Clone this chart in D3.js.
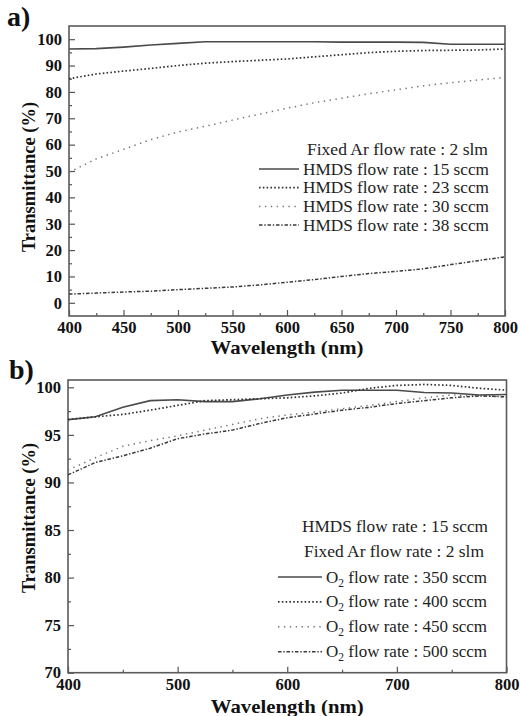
<!DOCTYPE html>
<html>
<head>
<meta charset="utf-8">
<script src="https://cdn.jsdelivr.net/npm/d3@7"></script>
<style>
  html, body { margin: 0; padding: 0; background: #fff; }
  svg { display: block; }
  .tick text { font-family: "Liberation Serif", "DejaVu Serif", serif; font-weight: bold; font-size: 16.5px; fill: #111; }
  .domain { display: none; }
  .tick line { stroke: #555; stroke-width: 1.2; }
</style>
</head>
<body>
<svg id="fig" width="520" height="716"></svg>
<script>
// Wavelength grid (nm) shared by every spectrum
const wavelength = [400, 425, 450, 475, 500, 525, 550, 575, 600, 625, 650, 675, 700, 725, 750, 775, 800];

// (a) transmittance (%) for each HMDS flow rate, Ar fixed at 2 slm
const hmds15 = [96.3, 96.4, 97.0, 97.8, 98.4, 99.0, 99.0, 99.0, 99.0, 99.0, 98.9, 98.9, 98.9, 98.8, 98.1, 98.1, 98.1];
const hmds23 = [85.0, 86.8, 87.9, 88.9, 90.0, 90.9, 91.5, 92.0, 92.5, 93.3, 94.1, 94.9, 95.4, 95.7, 95.8, 95.9, 96.3];
const hmds30 = [49.5, 54.6, 58.2, 61.9, 64.8, 67.0, 69.3, 71.6, 73.8, 75.9, 77.6, 79.3, 80.8, 82.3, 83.5, 84.5, 85.5];
const hmds38 = [3.3, 3.7, 4.1, 4.4, 5.0, 5.5, 6.0, 6.8, 7.8, 8.8, 10.0, 11.1, 11.9, 12.9, 14.5, 16.0, 17.4];

// (b) transmittance (%) for each O2 flow rate, HMDS 15 sccm, Ar 2 slm
const o2_350 = [96.6, 96.9, 97.9, 98.6, 98.7, 98.5, 98.5, 98.8, 99.2, 99.5, 99.7, 99.7, 99.7, 99.45, 99.4, 99.2, 99.25];
const o2_400 = [96.6, 96.9, 97.15, 97.6, 98.1, 98.6, 98.7, 98.8, 98.9, 99.1, 99.4, 99.9, 100.2, 100.3, 100.2, 99.9, 99.7];
const o2_450 = [91.3, 92.6, 93.8, 94.4, 94.9, 95.5, 96.1, 96.7, 97.1, 97.4, 97.75, 98.1, 98.5, 98.9, 99.2, 99.1, 99.0];
const o2_500 = [90.8, 92.1, 92.8, 93.6, 94.6, 95.1, 95.5, 96.2, 96.8, 97.2, 97.6, 97.9, 98.3, 98.6, 98.9, 99.1, 99.0];

// Axis tick values
const ticksAX = [400, 450, 500, 550, 600, 650, 700, 750, 800];
const ticksAY = [0, 10, 20, 30, 40, 50, 60, 70, 80, 90, 100];
const ticksBX = [400, 500, 600, 700, 800];
const ticksBY = [70, 75, 80, 85, 90, 95, 100];

const legendA = {
  header: ["Fixed Ar flow rate : 2 slm"],
  items: ["HMDS flow rate : 15 sccm", "HMDS flow rate : 23 sccm", "HMDS flow rate : 30 sccm", "HMDS flow rate : 38 sccm"]
};
const legendB = {
  header: ["HMDS flow rate : 15 sccm", "Fixed Ar flow rate : 2 slm"],
  items: ["350", "400", "450", "500"]
};

// Line looks: solid, dense dots, sparse dots, dash-dot
const styles = [
  { dash: null, color: "#4a4a4a", width: 1.6 },
  { dash: "1.6,2.2", color: "#333", width: 1.7 },
  { dash: "1.4,4.5", color: "#777", width: 1.5 },
  { dash: "3.5,1.8,1.4,1.8", color: "#3a3a3a", width: 1.5 }
];

const svg = d3.select("#fig");
const serif = '"Liberation Serif", "DejaVu Serif", serif';

function panel(cfg) {
  const g = svg.append("g");
  const x = d3.scaleLinear().domain([400, 800]).range([cfg.left, cfg.right]);
  const y = d3.scaleLinear().domain(cfg.yDomain).range([cfg.bottom, cfg.top]);

  // minor ticks
  g.append("g").attr("transform", `translate(0,${cfg.bottom})`)
    .call(d3.axisBottom(x).tickValues(cfg.xMinor).tickSize(-3).tickFormat(""));
  g.append("g").attr("transform", `translate(${cfg.left},0)`)
    .call(d3.axisLeft(y).tickValues(cfg.yMinor).tickSize(-3).tickFormat(""));

  // major ticks with labels
  const xa = g.append("g").attr("transform", `translate(0,${cfg.bottom})`)
    .call(d3.axisBottom(x).tickValues(cfg.xTicks).tickSize(-6).tickPadding(cfg.xPad).tickFormat(d3.format("d")));
  xa.selectAll(".tick text").attr("dy", "0.71em");
  g.append("g").attr("transform", `translate(${cfg.left},0)`)
    .call(d3.axisLeft(y).tickValues(cfg.yTicks).tickSize(-6).tickPadding(7).tickFormat(d3.format("d")));

  // plot frame
  g.append("rect")
    .attr("x", cfg.left).attr("y", cfg.top)
    .attr("width", cfg.right - cfg.left).attr("height", cfg.bottom - cfg.top)
    .attr("fill", "none").attr("stroke", "#5a5a5a").attr("stroke-width", 1.6);

  // spectra
  const line = d3.line().x((d, i) => x(wavelength[i])).y(d => y(d));
  cfg.series.forEach((s, k) => {
    g.append("path").datum(s)
      .attr("d", line)
      .attr("fill", "none")
      .attr("stroke", styles[k].color)
      .attr("stroke-width", styles[k].width)
      .attr("stroke-dasharray", styles[k].dash);
  });

  // axis titles
  g.append("text")
    .attr("x", (cfg.left + cfg.right) / 2).attr("y", cfg.xTitleY)
    .attr("text-anchor", "middle")
    .attr("font-family", serif).attr("font-weight", "bold").attr("font-size", 19.5).attr("fill", "#111")
    .attr("textLength", 153).attr("lengthAdjust", "spacingAndGlyphs")
    .text("Wavelength (nm)");
  g.append("text")
    .attr("transform", `translate(${cfg.yTitleX},${cfg.yTitleC}) rotate(-90)`)
    .attr("text-anchor", "middle")
    .attr("font-family", serif).attr("font-weight", "bold").attr("font-size", 18.5).attr("fill", "#111")
    .text("Transmittance (%)");

  // panel letter
  g.append("text")
    .attr("x", cfg.letterX).attr("y", cfg.letterY)
    .attr("font-family", serif).attr("font-weight", "bold").attr("font-size", 28).attr("fill", "#111")
    .text(cfg.letter);

  return g;
}

const ga = panel({
  left: 69, right: 505, top: 26, bottom: 316,
  yDomain: [-5, 105],
  xTicks: ticksAX, yTicks: ticksAY,
  xMinor: d3.range(425, 800, 50), yMinor: d3.range(5, 105, 10),
  xPad: 5, xTitleY: 354, yTitleX: 35, yTitleC: 177,
  letter: "a)", letterX: 7, letterY: 26,
  series: [hmds15, hmds23, hmds30, hmds38]
});

const gb = panel({
  left: 68, right: 506.5, top: 380, bottom: 672.7,
  yDomain: [70, 100.77],
  xTicks: ticksBX, yTicks: ticksBY,
  xMinor: d3.range(450, 800, 100), yMinor: d3.range(72.5, 100, 5),
  xPad: 6, xTitleY: 713, yTitleX: 35, yTitleC: 518,
  letter: "b)", letterX: 9, letterY: 379,
  series: [o2_350, o2_400, o2_450, o2_500]
});

// legends
function legend(g, headers, items, itemY0, step, lineX0, lineX1, textX, itemLen, fmt) {
  headers.forEach((h, i) => {
    g.append("text").attr("x", h.x).attr("y", h.y)
      .attr("font-family", serif).attr("font-size", 17).attr("fill", "#222")
      .attr("textLength", h.len).attr("lengthAdjust", "spacingAndGlyphs")
      .text(items.header[i]);
  });
  items.items.forEach((label, k) => {
    const yb = itemY0 + k * step;
    g.append("line")
      .attr("x1", lineX0).attr("x2", lineX1)
      .attr("y1", yb - 5.5).attr("y2", yb - 5.5)
      .attr("stroke", styles[k].color).attr("stroke-width", styles[k].width)
      .attr("stroke-dasharray", styles[k].dash);
    const t = g.append("text").attr("x", textX).attr("y", yb)
      .attr("font-family", serif).attr("font-size", 17).attr("fill", "#222");
    fmt(t, label, itemLen);
  });
}

legend(ga, [{ x: 307, y: 155, len: 181 }], legendA, 174.5, 18.7, 259, 299, 303, 186,
  (t, s, len) => t.attr("textLength", len).attr("lengthAdjust", "spacingAndGlyphs").text(s));
legend(gb, [{ x: 302, y: 531.5, len: 186 }, { x: 304, y: 556.5, len: 180 }], legendB, 582.5, 24.9, 278, 322, 326, 163,
  (t, s) => {
    t.append("tspan").text("O");
    t.append("tspan").attr("dy", 4).attr("font-size", 11.5).text("2");
    t.append("tspan").attr("dy", -4).text(" flow rate : " + s + " sccm");
  });
</script>
</body>
</html>
